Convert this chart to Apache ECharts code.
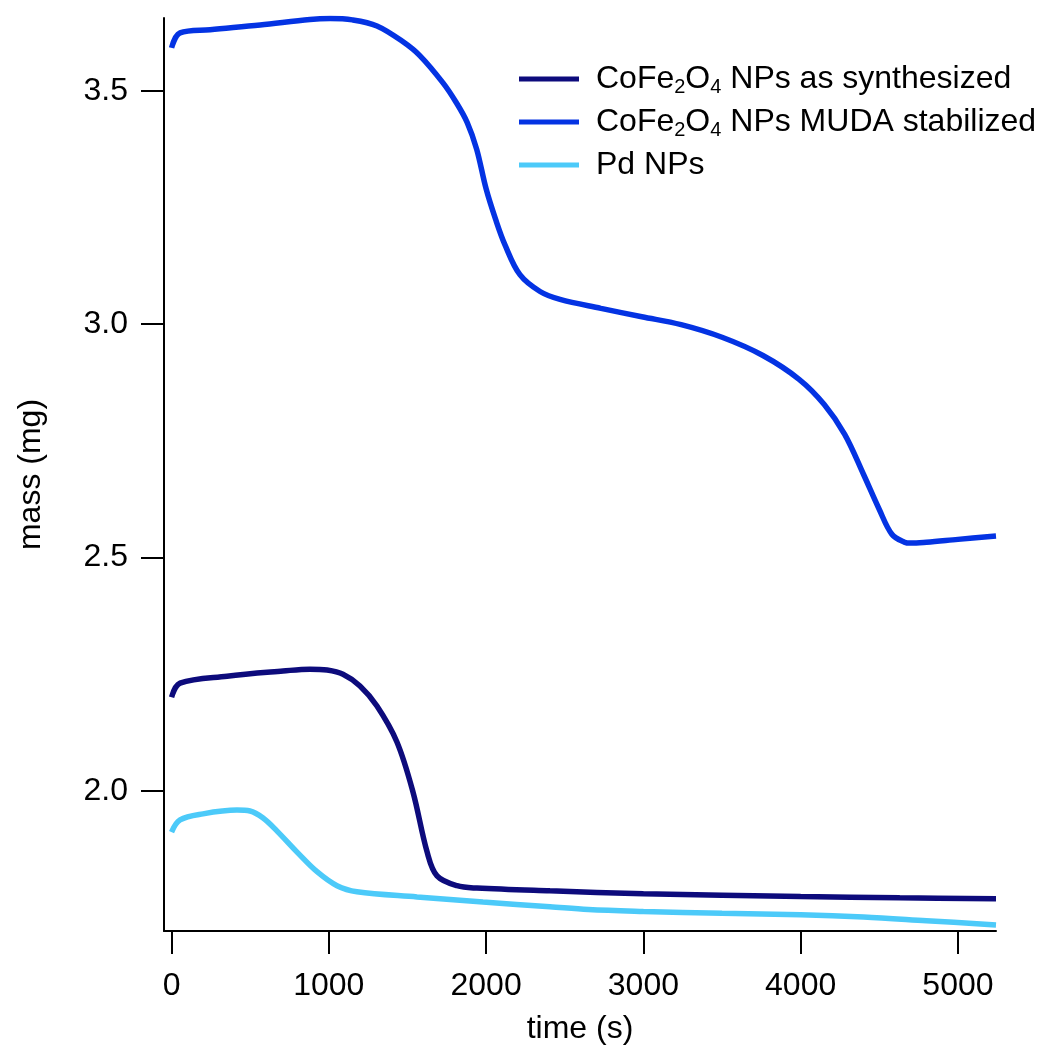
<!DOCTYPE html>
<html>
<head>
<meta charset="utf-8">
<script src="https://cdn.jsdelivr.net/npm/echarts@6/dist/echarts.min.js"></script>
<style>html,body{margin:0;padding:0;background:#fff;}#c{width:1050px;height:1050px;}</style>
</head>
<body>
<div id="c"></div>
<script>
const seriesNames = ['CoFe{sub|2}O{sub|4} NPs as synthesized', 'CoFe{sub|2}O{sub|4} NPs MUDA stabilized', 'Pd NPs'];
const seriesIds = ['syn', 'muda', 'pd'];
const xTicks = [0, 1000, 2000, 3000, 4000, 5000];
const yTicks = [2.0, 2.5, 3.0, 3.5];

const synTime = [0, 54, 353, 709, 880, 989, 1090, 1198, 1306, 1433, 1535, 1625, 1688, 1815, 1942, 2406, 3000, 4000, 4630, 5242];
const synMass = [2.201, 2.231, 2.246, 2.257, 2.261, 2.259, 2.250, 2.225, 2.182, 2.105, 1.998, 1.869, 1.818, 1.797, 1.792, 1.786, 1.780, 1.774, 1.771, 1.769];

const mudaTime = [0, 54, 245, 563, 880, 1008, 1150, 1306, 1472, 1580, 1726, 1810, 1880, 1940, 2000, 2060, 2120, 2215, 2343, 2470, 2730, 2990, 3240, 3500, 3760, 3990, 4150, 4280, 4400, 4500, 4580, 4660, 4700, 4800, 5000, 5242];
const mudaMass = [3.592, 3.624, 3.631, 3.641, 3.653, 3.655, 3.652, 3.639, 3.605, 3.575, 3.517, 3.475, 3.432, 3.375, 3.290, 3.225, 3.170, 3.106, 3.070, 3.053, 3.034, 3.016, 2.999, 2.972, 2.933, 2.882, 2.828, 2.764, 2.678, 2.603, 2.550, 2.533, 2.531, 2.533, 2.539, 2.546];

const pdTime = [0, 54, 200, 416, 499, 582, 671, 798, 925, 1052, 1179, 1561, 1980, 2406, 2650, 3000, 3500, 4000, 4400, 4800, 5242];
const pdMass = [1.912, 1.938, 1.951, 1.959, 1.957, 1.942, 1.914, 1.869, 1.827, 1.797, 1.784, 1.773, 1.762, 1.752, 1.746, 1.742, 1.738, 1.735, 1.730, 1.722, 1.713];

const colors = ['#0d0b7c', '#0433e3', '#4ccaf9'];
const FONT = 'Liberation Sans, Arial, sans-serif';

function pairs(t, m) { return t.map((v, i) => [v, m[i]]); }
const datasets = [pairs(synTime, synMass), pairs(mudaTime, mudaMass), pairs(pdTime, pdMass)];

const chart = echarts.init(document.getElementById('c'), null, {renderer: 'canvas'});
chart.setOption({
  backgroundColor: '#fff',
  animation: false,
  grid: {left: 164, right: 54, top: 18, bottom: 118},
  legend: {
    orient: 'vertical',
    left: 514, top: 56,
    icon: 'rect',
    itemWidth: 60, itemHeight: 5,
    itemGap: 7,
    data: seriesNames,
    textStyle: {
      fontFamily: FONT, fontSize: 32, color: '#000', lineHeight: 36,
      padding: [0, 0, 0, 12],
      rich: {sub: {fontFamily: FONT, fontSize: 20, color: '#000', lineHeight: 20, verticalAlign: 'bottom'}}
    }
  },
  xAxis: {
    type: 'value', min: -48, max: 5242,
    splitLine: {show: false},
    axisLine: {show: true, onZero: false, lineStyle: {color: '#000', width: 2}},
    axisTick: {show: true, length: 23, lineStyle: {color: '#000', width: 2}, customValues: xTicks},
    axisLabel: {fontFamily: FONT, fontSize: 32, color: '#000', margin: 39, customValues: xTicks,
      formatter: v => String(Math.round(v))},
    name: 'time (s)', nameLocation: 'middle', nameGap: 82,
    nameTextStyle: {fontFamily: FONT, fontSize: 32, color: '#000'}
  },
  yAxis: {
    type: 'value', min: 1.70, max: 3.656,
    splitLine: {show: false},
    axisLine: {show: true, onZero: false, lineStyle: {color: '#000', width: 2}},
    axisTick: {show: true, length: 23, lineStyle: {color: '#000', width: 2}, customValues: yTicks},
    axisLabel: {fontFamily: FONT, fontSize: 32, color: '#000', margin: 36, customValues: yTicks,
      formatter: v => v.toFixed(1)},
    name: 'mass (mg)', nameLocation: 'middle', nameGap: 117,
    nameTextStyle: {fontFamily: FONT, fontSize: 32, color: '#000'}
  },
  series: seriesNames.map((n, i) => ({
    id: seriesIds[i],
    name: n,
    type: 'line',
    data: datasets[i],
    smooth: 0.35,
    showSymbol: false,
    symbol: 'none',
    color: colors[i],
    lineStyle: {color: colors[i], width: 5.5},
    itemStyle: {color: colors[i]},
    z: 3 - i
  }))
});
</script>
</body>
</html>
